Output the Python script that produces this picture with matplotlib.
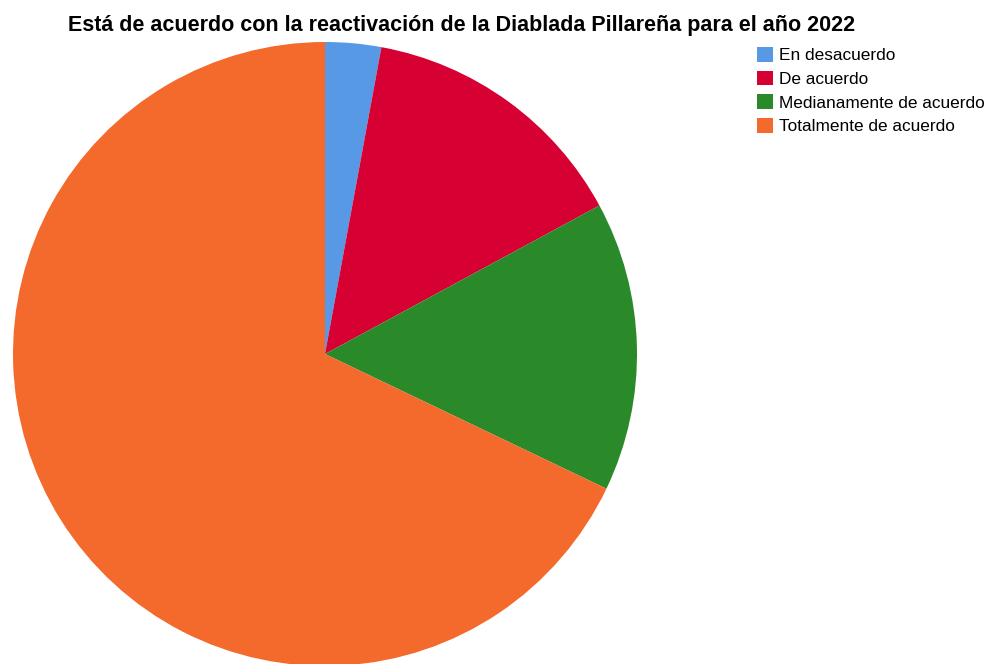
import matplotlib.pyplot as plt
from matplotlib.patches import Patch

plt.rcParams['font.family'] = ['Liberation Sans', 'DejaVu Sans']

categories = ['En desacuerdo', 'De acuerdo', 'Medianamente de acuerdo', 'Totalmente de acuerdo']
values = [11, 54, 57, 258]
colors = ['#5899e6', '#d60032', '#2a8a2a', '#f4692c']

W, H = 988, 664
fig = plt.figure(figsize=(W / 100, H / 100), dpi=100)
ax = fig.add_axes([0, 0, 1, 1])

wedges, _ = ax.pie(values, colors=colors, startangle=90, counterclock=False,
                   center=(325, 354), radius=312, frame=True,
                   wedgeprops=dict(linewidth=0))
# y axis is inverted, so flip the drawing direction back
for w in wedges:
    t1, t2 = w.theta1, w.theta2
    w.set_theta1(-t2)
    w.set_theta2(-t1)
ax.set_xlim(0, W)
ax.set_ylim(H, 0)
ax.set_aspect('equal')
ax.axis('off')

fig.text(68 / W, 1 - 25 / H, 'Está de acuerdo con la reactivación de la Diablada Pillareña para el año 2022',
         fontsize=15.5, fontweight='bold', va='center', ha='left')

handles = [Patch(facecolor=c, edgecolor='none') for c in colors]
fig.legend(handles, categories, loc='upper left', bbox_to_anchor=(757 / W, 1 - 47 / H),
           frameon=False, fontsize=12.4, handlelength=0.95, handleheight=0.95,
           handletextpad=0.3, labelspacing=0.42, borderpad=0, borderaxespad=0)

fig.savefig('out.png', dpi=100)
